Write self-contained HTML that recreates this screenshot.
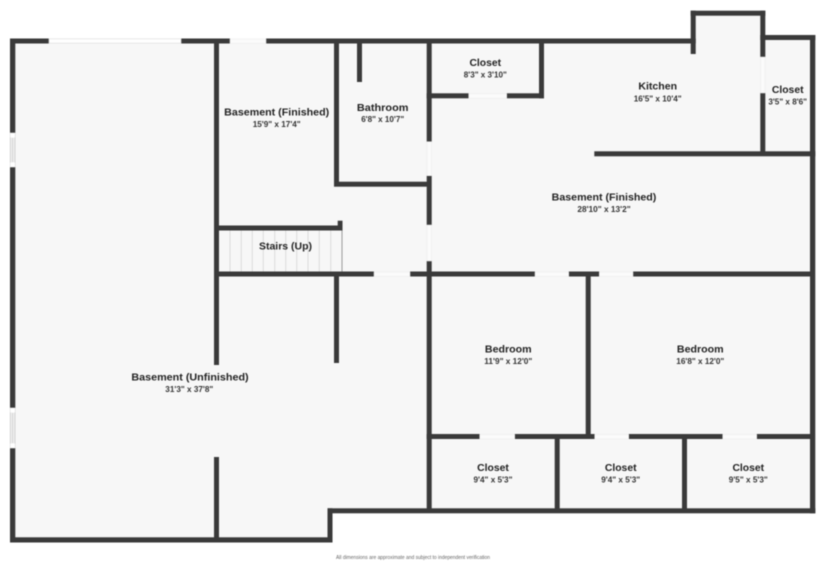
<!DOCTYPE html>
<html>
<head>
<meta charset="utf-8">
<style>
html,body{margin:0;padding:0;background:#fff;width:825px;height:562px;overflow:hidden}
svg{display:block;filter:blur(0.45px)}
text{font-family:"Liberation Sans",sans-serif;text-anchor:middle;fill:#222;font-weight:bold}
.n{font-size:10.5px}
.d{font-size:8.5px;fill:#333}
</style>
</head>
<body>
<svg width="825" height="562" viewBox="0 0 825 562" xmlns="http://www.w3.org/2000/svg">
<polygon fill="#f7f7f7" points="13,41 693,41 693,13 763,13 763,37 813,37 813,511 330,511 330,540 13,540"/>

<!-- stairs treads -->
<g stroke="#d4d4d4" stroke-width="0.8">
<line x1="230" y1="230" x2="230" y2="272"/><line x1="241.3" y1="230" x2="241.3" y2="272"/>
<line x1="252.3" y1="230" x2="252.3" y2="272"/><line x1="263.3" y1="230" x2="263.3" y2="272"/>
<line x1="274.7" y1="230" x2="274.7" y2="272"/><line x1="285.7" y1="230" x2="285.7" y2="272"/>
<line x1="296.7" y1="230" x2="296.7" y2="272"/><line x1="308" y1="230" x2="308" y2="272"/>
<line x1="319.3" y1="230" x2="319.3" y2="272"/><line x1="330.7" y1="230" x2="330.7" y2="272"/>
</g>
<line x1="342" y1="230" x2="342" y2="272" stroke="#9a9a9a" stroke-width="1"/>

<!-- walls -->
<g fill="#3a3a3a">
<!-- top -->
<rect x="10" y="38.5" width="39" height="5"/>
<rect x="181" y="38.5" width="49" height="5"/>
<rect x="266" y="38.5" width="429.700" height="5"/>
<!-- bump -->
<rect x="690.700" y="10.700" width="5" height="43.300"/>
<rect x="690.700" y="10.700" width="74.600" height="5"/>
<rect x="760.300" y="10.700" width="5" height="46.300"/>
<rect x="760.300" y="93" width="5" height="60"/>
<rect x="760.300" y="35" width="55" height="5"/>
<!-- right -->
<rect x="810" y="35" width="5.300" height="478.300"/>
<!-- left -->
<rect x="10" y="38.500" width="5.300" height="94.500"/>
<rect x="10" y="167" width="5.300" height="241"/>
<rect x="10" y="448" width="5.300" height="94.500"/>
<!-- bottom -->
<rect x="10" y="537.300" width="322.500" height="5.200"/>
<rect x="327.500" y="508.300" width="5" height="34.200"/>
<rect x="327.500" y="508.300" width="487.800" height="5"/>
<!-- x=214 wall -->
<rect x="214" y="38.500" width="5" height="326.500"/>
<rect x="214" y="457" width="5" height="85"/>
<!-- x=334 wall -->
<rect x="334" y="38.500" width="5" height="148"/>
<rect x="334" y="271.500" width="5" height="91.500"/>
<rect x="357" y="38.500" width="5" height="43.500"/>
<rect x="334" y="181.700" width="95" height="5"/>
<!-- x=427 wall -->
<rect x="426.700" y="38.500" width="5" height="103.200"/>
<rect x="426.700" y="175.700" width="5" height="49.300"/>
<rect x="426.700" y="261" width="5" height="252"/>
<!-- top closet -->
<rect x="539" y="38.500" width="5" height="59.800"/>
<rect x="426.700" y="93.300" width="42" height="5"/>
<rect x="506.700" y="93.300" width="37.300" height="5"/>
<!-- kitchen bottom -->
<rect x="594.300" y="151.300" width="221" height="5"/>
<!-- stairs -->
<rect x="214" y="225.500" width="128.500" height="5"/>
<rect x="337.700" y="220.700" width="4.800" height="9"/>
<!-- mid wall -->
<rect x="214" y="271.500" width="160" height="5"/>
<rect x="410" y="271.500" width="125" height="5"/>
<rect x="568.700" y="271.500" width="30.600" height="5"/>
<rect x="633" y="271.500" width="182" height="5"/>
<!-- bedroom divider -->
<rect x="585.700" y="271.500" width="5" height="165"/>
<!-- lower wall -->
<rect x="426.700" y="434" width="53" height="5"/>
<rect x="514.700" y="434" width="80" height="5"/>
<rect x="628.700" y="434" width="94" height="5"/>
<rect x="756.700" y="434" width="58" height="5"/>
<rect x="554.700" y="434" width="5" height="79"/>
<rect x="682" y="434" width="5" height="79"/>
</g>

<!-- windows -->
<rect x="49" y="38.800" width="132" height="4.400" fill="#fff" stroke="#dedede" stroke-width="0.7"/>
<g fill="#f1f1f1" stroke="#c4c4c4" stroke-width="0.7">
<rect x="10.300" y="133" width="4.700" height="34"/>
<rect x="10.300" y="408" width="4.700" height="40"/>
</g>
<g stroke="#c0c0c0" stroke-width="0.6">
<line x1="12.600" y1="138" x2="12.600" y2="162"/>
<line x1="12.600" y1="413" x2="12.600" y2="443"/>
</g>
<g fill="#fff">
<rect x="10.300" y="133" width="4.700" height="4.500"/>
<rect x="10.300" y="162.500" width="4.700" height="4.500"/>
<rect x="10.300" y="408" width="4.700" height="4.500"/>
<rect x="10.300" y="443.500" width="4.700" height="4.500"/>
</g>
<!-- door openings -->
<g fill="#fbfbfb" stroke="#e8e8e8" stroke-width="0.5">
<rect x="230" y="39" width="36" height="4.400"/>
<rect x="374" y="272" width="36" height="4.400"/>
<rect x="468.700" y="93.800" width="38" height="4.400"/>
<rect x="535" y="272" width="33.700" height="4.400"/>
<rect x="599.300" y="272" width="33.700" height="4.400"/>
<rect x="479.700" y="434.500" width="35" height="4.400"/>
<rect x="594.700" y="434.500" width="34" height="4.400"/>
<rect x="722.700" y="434.500" width="34" height="4.400"/>
<rect x="427" y="141.700" width="4.400" height="34"/>
<rect x="427" y="225" width="4.400" height="36"/>
<rect x="760.600" y="57" width="4.400" height="36"/>
</g>

<!-- labels -->
<text class="n" x="276.700" y="115.700" textLength="105" lengthAdjust="spacingAndGlyphs">Basement (Finished)</text>
<text class="d" x="276.700" y="127" textLength="48" lengthAdjust="spacingAndGlyphs">15'9" x 17'4"</text>
<text class="n" x="382.700" y="111" textLength="51.500" lengthAdjust="spacingAndGlyphs">Bathroom</text>
<text class="d" x="382.700" y="122" textLength="43" lengthAdjust="spacingAndGlyphs">6'8" x 10'7"</text>
<text class="n" x="285.500" y="249.500" textLength="53" lengthAdjust="spacingAndGlyphs">Stairs (Up)</text>
<text class="n" x="485.300" y="66" textLength="31.700" lengthAdjust="spacingAndGlyphs">Closet</text>
<text class="d" x="485.300" y="77.300" textLength="43" lengthAdjust="spacingAndGlyphs">8'3" x 3'10"</text>
<text class="n" x="657.700" y="89.700" textLength="38.700" lengthAdjust="spacingAndGlyphs">Kitchen</text>
<text class="d" x="657.700" y="101.300" textLength="48" lengthAdjust="spacingAndGlyphs">16'5" x 10'4"</text>
<text class="n" x="787.700" y="93" textLength="31.700" lengthAdjust="spacingAndGlyphs">Closet</text>
<text class="d" x="787.700" y="104.300" textLength="38.700" lengthAdjust="spacingAndGlyphs">3'5" x 8'6"</text>
<text class="n" x="604" y="200.300" textLength="104.700" lengthAdjust="spacingAndGlyphs">Basement (Finished)</text>
<text class="d" x="604" y="212" textLength="53.300" lengthAdjust="spacingAndGlyphs">28'10" x 13'2"</text>
<text class="n" x="190" y="380.700" textLength="117.300" lengthAdjust="spacingAndGlyphs">Basement (Unfinished)</text>
<text class="d" x="189.300" y="392" textLength="48" lengthAdjust="spacingAndGlyphs">31'3" x 37'8"</text>
<text class="n" x="508.300" y="352.700" textLength="46.700" lengthAdjust="spacingAndGlyphs">Bedroom</text>
<text class="d" x="508.300" y="364" textLength="48" lengthAdjust="spacingAndGlyphs">11'9" x 12'0"</text>
<text class="n" x="700.300" y="352.700" textLength="46.700" lengthAdjust="spacingAndGlyphs">Bedroom</text>
<text class="d" x="700.300" y="364" textLength="48" lengthAdjust="spacingAndGlyphs">16'8" x 12'0"</text>
<text class="n" x="493" y="471" textLength="31.700" lengthAdjust="spacingAndGlyphs">Closet</text>
<text class="d" x="493" y="482.300" textLength="39" lengthAdjust="spacingAndGlyphs">9'4" x 5'3"</text>
<text class="n" x="620.700" y="471" textLength="31.700" lengthAdjust="spacingAndGlyphs">Closet</text>
<text class="d" x="620.700" y="482.300" textLength="39" lengthAdjust="spacingAndGlyphs">9'4" x 5'3"</text>
<text class="n" x="748.300" y="471" textLength="31.700" lengthAdjust="spacingAndGlyphs">Closet</text>
<text class="d" x="748.300" y="482.300" textLength="39" lengthAdjust="spacingAndGlyphs">9'5" x 5'3"</text>
<text x="413" y="559" textLength="154" lengthAdjust="spacingAndGlyphs" style="font-size:5px;font-weight:normal;fill:#666">All dimensions are approximate and subject to independent verification</text>
</svg>
</body>
</html>
